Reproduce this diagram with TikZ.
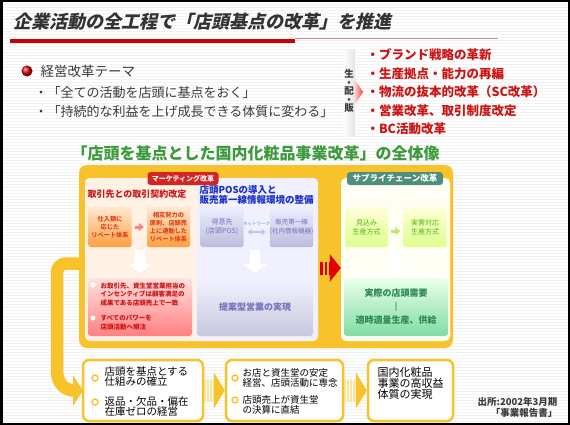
\documentclass[tikz,border=0pt]{standalone}
\usepackage{fontspec}
\setmainfont{Noto Sans CJK JP}
\newfontfamily\titlefont{Noto Sans CJK JP}[FakeSlant=0.22, BoldFeatures={FakeSlant=0.22}]
\usetikzlibrary{positioning,arrows.meta}

\definecolor{titlegray}{HTML}{333333}
\definecolor{darktext}{HTML}{3A3A3A}
\definecolor{themered}{HTML}{CC1414}
\definecolor{headgreen}{HTML}{3C9A3C}
\definecolor{panelyellow}{HTML}{F8C32A}
\definecolor{mkred}{HTML}{D42424}
\definecolor{scgreen}{HTML}{4E8E7C}
\definecolor{posblue}{HTML}{1A2FC8}
\definecolor{netblue}{HTML}{5A8AD8}
\definecolor{rebatered}{HTML}{E0401A}
\definecolor{salespurple}{HTML}{7474BC}
\definecolor{demandgreen}{HTML}{2A8A50}

\begin{document}
\begin{tikzpicture}[x=1pt, y=-1pt,
    stripe/.style={gray!10, line width=1pt},
    tab/.style={rectangle, rounded corners=3pt, text=white, minimum height=13pt, inner xsep=3pt, inner ysep=0pt},
    smallbox/.style={rectangle, rounded corners=2pt, minimum width=43pt, minimum height=40pt, align=center, inner sep=0pt},
    orangebox/.style={top color=orange!18, bottom color=orange!75, text=rebatered, font=\fontsize{6.2}{8}\selectfont\bfseries},
    bluebox/.style={top color=blue!7, bottom color=blue!30!gray!40, text=salespurple, font=\fontsize{7}{9}\selectfont},
    greenbox/.style={top color=yellow!15!white, bottom color=green!30!yellow!45, text=green!45!olive, font=\fontsize{7}{9}\selectfont},
    bigbox/.style={rectangle, rounded corners=3pt, minimum height=58pt, align=center},
    stepbox/.style={rectangle, draw=panelyellow, line width=2.5pt, fill=white, rounded corners=6pt, minimum height=61pt},
    ring/.style={circle, draw=panelyellow, line width=1.4pt, fill=white, minimum size=6pt, inner sep=0pt},
    whitedot/.style={circle, fill=white, minimum size=5pt, inner sep=0pt},
    minarrow/.style={line width=3pt, -{Triangle[width=8pt,length=5pt]}, shorten <=3pt, shorten >=3pt},
    netarrow/.style={line width=2pt, netblue!45, {Triangle[width=6pt,length=4pt]}-{Triangle[width=6pt,length=4pt]}, shorten <=4pt, shorten >=4pt},
    downarrow/.style={white, line width=10pt, -{Triangle[width=24pt,length=9pt]}, shorten >=5pt},
    redarrow/.style={red!85!black, line width=13pt, dash pattern=on 2.5pt off 2pt, -{Triangle[width=27pt,length=11pt,color=red!90!black]}, shorten <=2pt},
    flowarrow/.style={panelyellow!45, line width=22pt, dash pattern=on 1.5pt off 1.5pt, -{Triangle[width=36pt,length=11pt,color=panelyellow]}},
    pipe/.style={panelyellow, line width=12.5pt, -{Triangle[width=30pt,length=10pt]}}
  ]

    \useasboundingbox (0,0) rectangle (570,425);
    \fill[white] (0,0) rectangle (570,425);
    \foreach \y in {1.5,4.5,...,424} \draw[stripe] (0,\y) -- (570,\y);

    %% title
    \node[anchor=west, font=\titlefont\fontsize{18}{18}\selectfont\bfseries, text=titlegray] (title) at (10,22) {企業活動の全工程で「店頭基点の改革」を推進};
    \draw[red!80!black, line width=3.5pt] (10,41) -- (295,41);
    \draw[red!45!gray!60, line width=1pt] (295,38.5) -- (498,38.5);

    %% management theme
    \node[circle, ball color=red!90!black, minimum size=11pt, inner sep=0pt] (ball) at (27,71) {};
    \node[anchor=west, font=\fontsize{13.5}{14}\selectfont, text=darktext] (theme) at (37,71) {経営改革テーマ};
    \node[anchor=west, font=\fontsize{13}{14}\selectfont, text=darktext] (theme1) at (31,93) {・「全ての活動を店頭に基点をおく」};
    \node[anchor=west, font=\fontsize{13}{14}\selectfont, text=darktext] (theme2) at (31,112) {・「持続的な利益を上げ成長できる体質に変わる」};

    \shade[left color=white, right color=gray!35] (343,50) -- (355,50) -- (355,80) -- (363,92) -- (355,104) -- (355,137) -- (343,137) -- cycle;
    \shade[left color=red!20, right color=red!75] (355,80) -- (363,92) -- (355,104) -- cycle;
    \node[align=center, font=\fontsize{9.5}{8.5}\selectfont\bfseries, text=darktext, inner sep=0pt] (seihan) at (349,91) {生\\・\\配\\・\\販};

    \node[anchor=west, font=\fontsize{12.5}{13}\selectfont\bfseries, text=themered] (brand) at (363,55) {・ブランド戦略の革新};
    \node[anchor=west, font=\fontsize{12.5}{13}\selectfont\bfseries, text=themered] (site) at (363,73.5) {・生産拠点・能力の再編};
    \node[anchor=west, font=\fontsize{12.5}{13}\selectfont\bfseries, text=themered] (logi) at (363,92) {・物流の抜本的改革（SC改革）};
    \node[anchor=west, font=\fontsize{12.5}{13}\selectfont\bfseries, text=themered] (trade) at (363,110.5) {・営業改革、取引制度改定};
    \node[anchor=west, font=\fontsize{12.5}{13}\selectfont\bfseries, text=themered] (bc) at (363,129) {・BC活動改革};

    %% overview
    \node[anchor=west, font=\fontsize{16}{16}\selectfont\bfseries, text=headgreen] (overview) at (68,153) {「店頭を基点とした国内化粧品事業改革」の全体像};

    \draw[pipe, rounded corners=9pt] (79,263.5) -- (57,263.5) -- (57,362) .. controls (57,384) and (66,390.5) .. (83,390.5);

    \node[rectangle, rounded corners=8pt, fill=panelyellow, minimum width=374pt, minimum height=183pt] (ypanel) at (266,256.5) {};

    %% marketing section
    \node[rectangle, rounded corners=5pt, fill=white, minimum width=233pt, minimum height=163pt] (mkpanel) at (201.5,259.5) {};
    \begin{scope}
      \clip[rounded corners=5pt] (85,178) rectangle (318,341);
      \fill[orange!10] (85,178) rectangle (196,341);
      \fill[blue!6] (196,178) rectangle (318,341);
    \end{scope}

    %% supply chain section
    \node[rectangle, rounded corners=5pt, fill=yellow!4, minimum width=109pt, minimum height=163pt] (scpanel) at (395.5,259.5) {};

    \node[tab, fill=mkred, font=\fontsize{7}{8}\selectfont\bfseries, minimum width=71pt] (mktab) at (183,178.5) {マーケティング改革};
    \node[tab, fill=scgreen, font=\fontsize{8.5}{9}\selectfont\bfseries, minimum width=96pt] (sctab) at (395,178.5) {サプライチェーン改革};

    \node[font=\fontsize{9}{9}\selectfont\bfseries, text=themered] (contract) at (137,194) {取引先との取引契約改定};
    \node[anchor=west, align=left, font=\fontsize{9.5}{8.5}\selectfont\bfseries, text=posblue] (postitle) at (196,195) {店頭POSの導入と\\販売第一線情報環境の整備};

    \node[smallbox, orangebox] (rebate) at (110,227) {仕入額に\\応じた\\リベート体系};
    \node[smallbox, orangebox] (mutual) at (168.5,227) {相互努力の\\原則、店頭売\\上に連動した\\リベート体系};
    \node[smallbox, bluebox] (pos) at (222,227) {得意先\\(店頭POS)};
    \node[smallbox, bluebox, font=\fontsize{6.5}{9}\selectfont] (front) at (291.5,227) {販売第一線\\(社内情報機器)};
    \node[smallbox, greenbox] (forecast) at (366.5,227) {見込み\\生産方式};
    \node[smallbox, greenbox] (actual) at (425,227) {実需対応\\生産方式};

    \draw[minarrow, red!50] (rebate) -- (mutual);
    \draw[netarrow] ([yshift=-5pt]pos.east) -- ([yshift=-5pt]front.west) node[midway, above=1.5pt, font=\fontsize{4.5}{5}\selectfont, text=netblue] (net) {ネットワーク};
    \draw[minarrow, yellow!60!green!60] ([yshift=-4pt]forecast.east) -- ([yshift=-4pt]actual.west);

    \node[bigbox, top color=red!12, bottom color=red!50, minimum width=104pt] (incentive) at (140,307) {};
    \node[whitedot] (incdot1) at (93,285) {};
    \node[whitedot] (incdot2) at (93,318) {};
    \node[anchor=west, align=left, font=\fontsize{6.5}{8.5}\selectfont\bfseries, text=themered] (inctext) at (97,306.5) {お取引先、資生堂営業担当の\\インセンティブは顧客満足の\\成果である店頭売上で一致\\[7pt]すべてのパワーを\\店頭活動へ傾注};

    \node[bigbox, top color=blue!5, bottom color=blue!25!gray!35, minimum width=116pt, font=\fontsize{9}{9}\selectfont\bfseries, text=salespurple] (sales) at (255,307) {提案型営業の実現};
    \node[bigbox, top color=green!8, bottom color=green!45!teal!50, minimum width=104pt, font=\fontsize{9}{13.5}\selectfont\bfseries, text=demandgreen] (demand) at (396,307) {実際の店頭需要\\‖\\適時適量生産、供給};

    \coordinate (mkdown1) at (140,250);
    \coordinate (mkdown2) at (255,250);
    \coordinate (scdown) at (396,250);
    \draw[downarrow] (mkdown1) -- (incentive.north);
    \draw[downarrow] (mkdown2) -- (sales.north);
    \draw[downarrow] (scdown) -- (demand.north);

    \draw[redarrow] ([yshift=-8.5pt]mkpanel.east) -- ([yshift=-8.5pt]scpanel.west);

    %% results
    \node[stepbox, minimum width=120pt] (base) at (143,390.5) {};
    \node[ring] (basering1) at (95,378) {};
    \node[ring] (basering2) at (95,402) {};
    \node[anchor=west, align=left, font=\fontsize{10.5}{10.5}\selectfont] (basetext) at (101,391.5) {店頭を基点とする\\仕組みの確立\\[9pt]返品・欠品・偏在\\在庫ゼロの経営};

    \node[stepbox, minimum width=117pt] (stable) at (284.5,390.5) {};
    \node[ring] (stablering1) at (235,378) {};
    \node[ring] (stablering2) at (235,400) {};
    \node[anchor=west, align=left, font=\fontsize{9.5}{10}\selectfont] (stabletext) at (239,391.5) {お店と資生堂の安定\\経営、店頭活動に専念\\[7pt]店頭売上が資生堂\\の決算に直結};

    \node[stepbox, minimum width=85pt] (profit) at (410.5,390.5) {};
    \node[anchor=west, align=left, font=\fontsize{11}{11}\selectfont] (profittext) at (374,383) {国内化粧品\\事業の高収益\\体質の実現};

    \draw[flowarrow] (base) -- (stable);
    \draw[flowarrow] (stable) -- (profit);

    \node[anchor=east, font=\fontsize{9.5}{10}\selectfont\bfseries, text=darktext] (source) at (561,402) {出所:2002年3月期};
    \node[anchor=east, font=\fontsize{9.5}{10}\selectfont\bfseries, text=darktext] (report) at (561,413) {「事業報告書」};

    \draw[black, line width=2.5pt] (1.25,1.25) rectangle (568.75,423.75);

\end{tikzpicture}
\end{document}
